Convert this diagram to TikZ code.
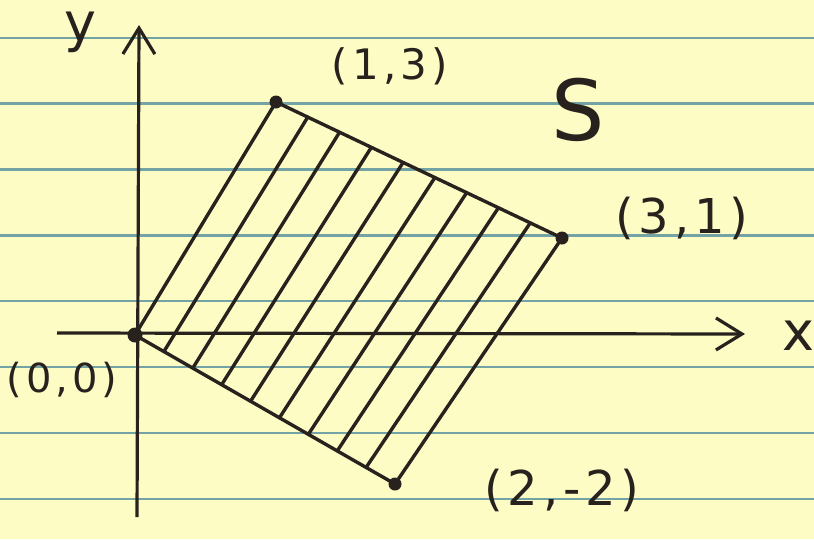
\documentclass[tikz,border=0pt]{standalone}
\usepackage{fontspec}
\newfontfamily\hand[LetterSpace=10]{DejaVu Sans}
\usetikzlibrary{arrows.meta,calc}
\definecolor{paper}{RGB}{253,252,196}
\definecolor{rule}{RGB}{115,163,165}
\definecolor{ink}{RGB}{40,34,30}
\tikzset{
  ruleline/.style={rule, line width=2.4pt},
  axis/.style={ink, line width=3.2pt, -{Straight Barb[length=26pt,width=32pt,line width=3.2pt]}},
  edge/.style={ink, line width=3.4pt, line join=round},
  hatch/.style={ink, line width=3.4pt, line cap=round},
  dot/.style={circle, fill=ink, inner sep=0pt, minimum size=13pt},
  lbl/.style={ink, inner sep=0pt, font=\hand\fontsize{#1}{#1}\selectfont},
}
\begin{document}
\begin{tikzpicture}[x=1pt,y=-1pt]
\useasboundingbox (0,0) rectangle (814,539);
\fill[paper] (0,0) rectangle (814,539);
% ruled lines
\foreach \yy in {38,103.5,169.5,235.5,301,367,433,499}
  \draw[ruleline] (0,\yy) -- (814,\yy);
% vertices
\node[dot, minimum size=15pt] (O) at (135,335) {};
\node[dot] (A) at (276,102) {};
\node[dot] (B) at (562,238) {};
\node[dot] (D) at (395,484) {};
% axes
\coordinate (xs) at (57,333);
\coordinate (xe) at (745,334);
\coordinate (ys) at (137,517);
\coordinate (ye) at (139,25);
\draw[axis] (xs) -- (xe);
\draw[axis] (ys) -- (ye);
% region
\draw[edge] (O.center) -- (A.center) -- (B.center) -- (D.center) -- cycle;
\foreach \k in {1,...,8}
  \draw[hatch] ($(O.center)!\k/9!(D.center)$) -- ($(A.center)!\k/9!(B.center)$);
% labels
\node[lbl=54] (ly) at (80,32) {y};
\node[lbl=54] (lx) at (798,336) {x};
\node[lbl=42] (l13) at (390,66) {(1,3)};
\node[lbl=84] (lS) at (578,110) {S};
\node[lbl=48] (l31) at (682,218) {(3,1)};
\node[lbl=40] (l00) at (62,380) {(0,0)};
\node[lbl=48] (l22) at (562,490) {(2,-2)};
\end{tikzpicture}
\end{document}
